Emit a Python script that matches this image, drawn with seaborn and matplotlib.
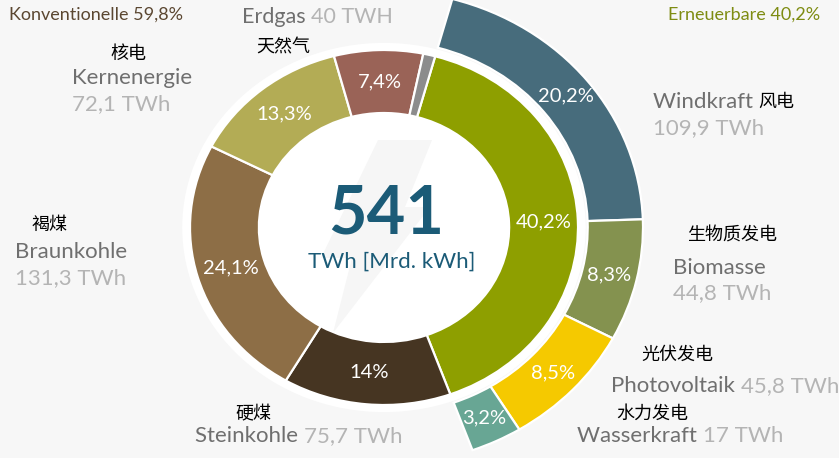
import numpy as np
import matplotlib
matplotlib.use("Agg")
import matplotlib.pyplot as plt
import seaborn as sns
from matplotlib.patches import Ellipse, Polygon

# ---------------- data ----------------
total_twh = "541"
inner_names = ["Erneuerbare", "Steinkohle", "Braunkohle", "Kernenergie", "Erdgas", "Sonstige"]
inner_pct = [40.2, 14.0, 24.1, 13.3, 7.4, 1.0]
inner_pct_text = ["40,2%", "14%", "24,1%", "13,3%", "7,4%", ""]
inner_colors = ["#8e9f00", "#463522", "#8d6e46", "#b3ac55", "#9a6357", "#8c8c8c"]

outer_names = ["Windkraft", "Biomasse", "Photovoltaik", "Wasserkraft"]
outer_pct = [20.2, 8.3, 8.5, 3.2]
outer_pct_text = ["20,2%", "8,3%", "8,5%", "3,2%"]
outer_colors = ["#476c7c", "#84924f", "#f5c900", "#68a694"]

label_names = ["Kernenergie", "Erdgas", "Braunkohle", "Steinkohle",
               "Windkraft", "Biomasse", "Photovoltaik", "Wasserkraft"]
label_values = ["72,1 TWh", "40 TWH", "131,3 TWh", "75,7 TWh",
                "109,9 TWh", "44,8 TWh", "45,8 TWh", "17 TWh"]
label_cn = ["核电", "天然气", "褐煤", "硬煤", "风电", "生物质发电", "光伏发电", "水力发电"]

conv_title = "Konventionelle 59,8%"
ren_title = "Erneuerbare 40,2%"

# ---------------- style ----------------
sns.set_theme(style="white")
plt.rcParams["font.family"] = ["Lato", "Noto Sans CJK SC", "DejaVu Sans"]
CN = ["Noto Sans CJK SC", "DejaVu Sans"]

bg = "#f7f7f7"
W, H = 839, 458
cx, cy, rx, ry = 384, 227.5, 194, 177.5

fig = plt.figure(figsize=(W / 100, H / 100), dpi=100, facecolor=bg)
ax = fig.add_axes([0, 0, 1, 1])
ax.set_facecolor(bg)

def P(x, y):
    return (x / W, 1 - y / H)

def D(x, y):
    return ((x - cx) / rx, (cy - y) / ry)

start = 74.7
# white backing disk
ax.add_patch(Ellipse((0, 0), 2.08, 2.08, facecolor="white", edgecolor="none", zorder=0))
# faint lightning bolt
bolt = [D(378, 140), D(432, 140), D(405, 207), D(430, 207), D(333, 333), D(352, 258), D(321, 258)]
ax.add_patch(Polygon(bolt, closed=True, facecolor="#f6f6f6", edgecolor="none", zorder=0.5))

r_in_out, r_in_w = 1.0, 0.355
w_inner, _ = ax.pie(inner_pct, radius=r_in_out, colors=inner_colors, startangle=start,
                    counterclock=False,
                    wedgeprops=dict(width=r_in_w, edgecolor="white", linewidth=1.6))

r_out_out, r_out_w = 1.335, 0.285
w_outer, _ = ax.pie([v / 100 for v in outer_pct], radius=r_out_out, colors=outer_colors,
                    startangle=start, counterclock=False, normalize=False,
                    wedgeprops=dict(width=r_out_w, edgecolor="white", linewidth=1.6))

ax.set_aspect("auto")
ax.set_xlim(-cx / rx, (W - cx) / rx)
ax.set_ylim((cy - H) / ry, cy / ry)
ax.axis("off")

def put_pct(wedges, texts, rmid):
    for w, t in zip(wedges, texts):
        if not t:
            continue
        a = np.deg2rad((w.theta1 + w.theta2) / 2)
        ax.text(rmid * np.cos(a), rmid * np.sin(a), t, color="white", fontsize=14.5,
                ha="center", va="center", zorder=5)

put_pct(w_inner, inner_pct_text, r_in_out - r_in_w / 2)
put_pct(w_outer, outer_pct_text, r_out_out - r_out_w / 2)

# center
teal = "#1b5b77"
fig.text(*P(386, 214), total_twh, color=teal, fontsize=48, fontweight="bold",
         ha="center", va="center")
fig.text(*P(392, 262), "TWh [Mrd. kWh]", color=teal, fontsize=16, ha="center", va="center")

# titles
fig.text(*P(9, 15), conv_title, color="#5b4731", fontsize=13, ha="left", va="center")
fig.text(*P(820, 15), ren_title, color="#7e8c12", fontsize=13, ha="right", va="center")

name_c, val_c, fs, cfs = "#6f6f6f", "#b4b4b4", 16, 13

def two_line(x, y1, y2, name, val, cn, cnx, cny):
    fig.text(*P(x, y1), name, color=name_c, fontsize=fs, ha="left", va="center")
    fig.text(*P(x, y2), val, color=val_c, fontsize=fs, ha="left", va="center")
    fig.text(*P(cnx, cny), cn, color="black", fontsize=cfs, ha="center", va="center", family=CN)

def one_line(x, y, name, val, cn, cnx, cny, size=fs):
    t = fig.text(*P(x, y), name + " ", color=name_c, fontsize=size, ha="left", va="center")
    fig.canvas.draw()
    bb = t.get_window_extent()
    fig.text((bb.x1) / W, 1 - y / H, val, color=val_c, fontsize=size, ha="left", va="center")
    fig.text(*P(cnx, cny), cn, color="black", fontsize=cfs, ha="center", va="center", family=CN)
    return bb

# Kernenergie
two_line(72, 78, 104, label_names[0], label_values[0], label_cn[0], 128, 54)
# Erdgas
one_line(242, 17, label_names[1], label_values[1], label_cn[1], 283, 47, size=15.5)
# Braunkohle
two_line(15, 252, 278, label_names[2], label_values[2], label_cn[2], 50, 225)
# Steinkohle
one_line(195, 436, label_names[3], label_values[3], label_cn[3], 253, 414)
# Windkraft
t = fig.text(*P(653, 102), label_names[4] + " ", color=name_c, fontsize=fs, ha="left", va="center")
fig.canvas.draw()
bb = t.get_window_extent()
fig.text(bb.x1 / W, 1 - 102 / H, label_cn[4], color="black", fontsize=cfs, ha="left",
         va="center", family=CN)
fig.text(*P(653, 128), label_values[4], color=val_c, fontsize=fs, ha="left", va="center")
# Biomasse
two_line(673, 268, 293, label_names[5], label_values[5], label_cn[5], 732, 236)
# Photovoltaik
one_line(611, 386, label_names[6], label_values[6], label_cn[6], 677, 355)
# Wasserkraft
one_line(577, 436, label_names[7], label_values[7], label_cn[7], 652, 414)

fig.savefig("out.png", dpi=100, facecolor=bg)
